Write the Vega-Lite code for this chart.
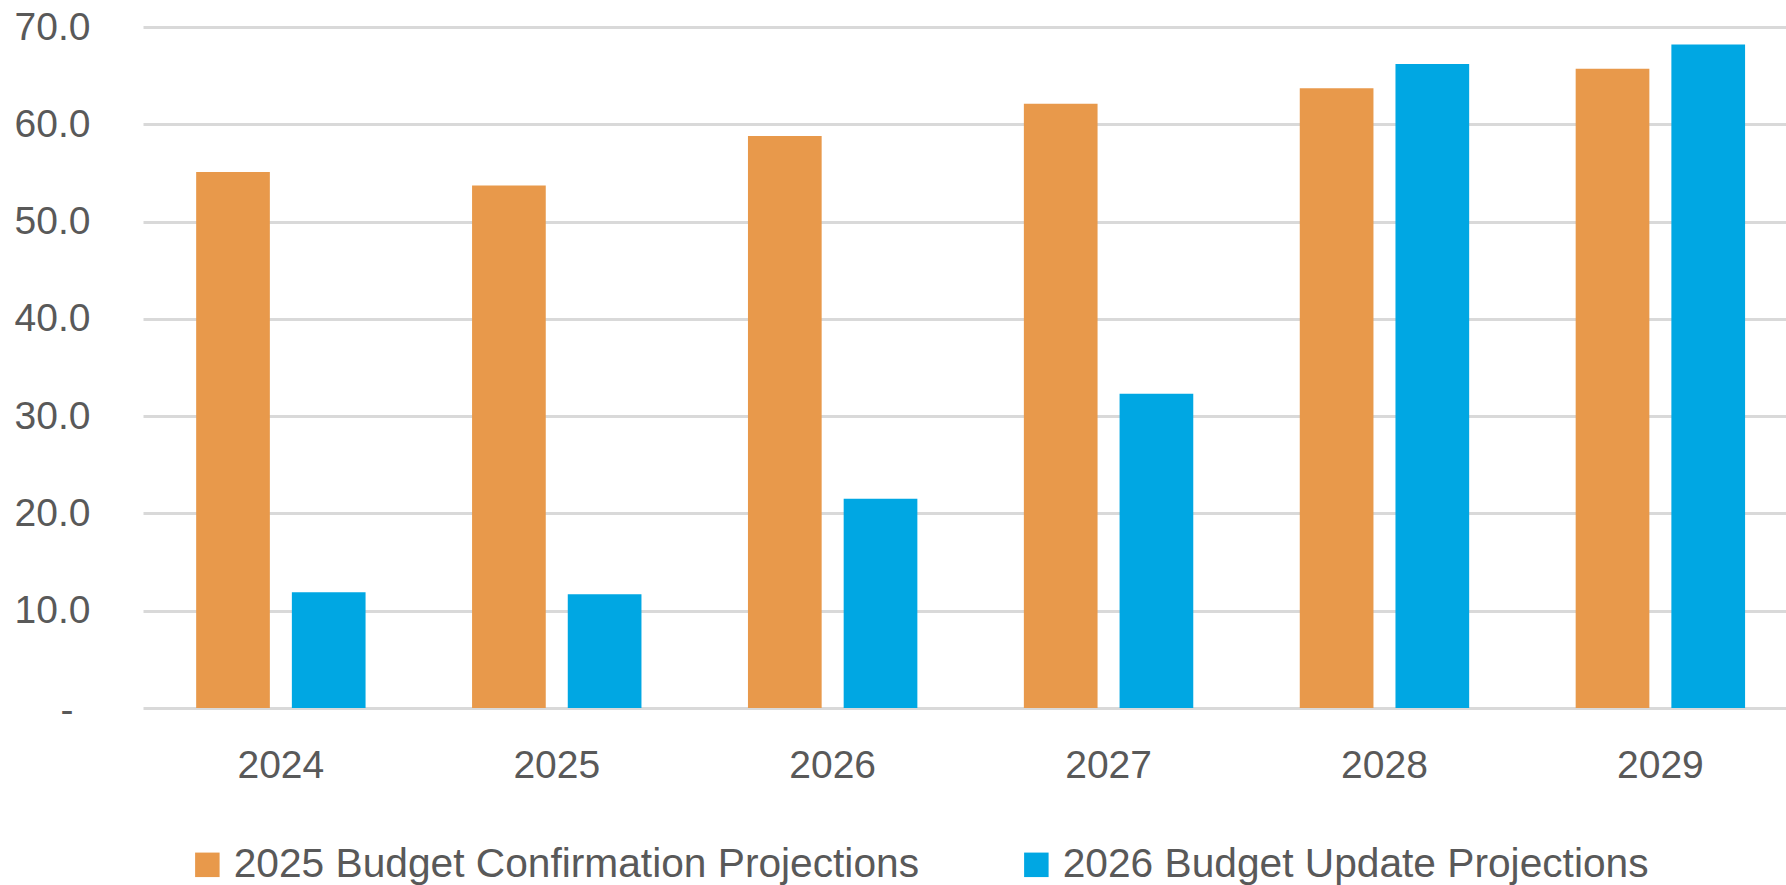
{
  "$schema": "https://vega.github.io/schema/vega-lite/v6.json",
  "autosize": "none",
  "padding": {"left": 143, "top": 27, "right": 0, "bottom": 177},
  "width": 1643,
  "height": 681,
  "background": "white",
  "config": {
    "view": {"stroke": null},
    "font": "Liberation Sans"
  },
  "data": {
    "values": [
      {"year": "2024", "series": "2025 Budget Confirmation Projections", "value": 55.1},
      {"year": "2024", "series": "2026 Budget Update Projections", "value": 11.9},
      {"year": "2025", "series": "2025 Budget Confirmation Projections", "value": 53.7},
      {"year": "2025", "series": "2026 Budget Update Projections", "value": 11.7},
      {"year": "2026", "series": "2025 Budget Confirmation Projections", "value": 58.8},
      {"year": "2026", "series": "2026 Budget Update Projections", "value": 21.5},
      {"year": "2027", "series": "2025 Budget Confirmation Projections", "value": 62.1},
      {"year": "2027", "series": "2026 Budget Update Projections", "value": 32.3},
      {"year": "2028", "series": "2025 Budget Confirmation Projections", "value": 63.7},
      {"year": "2028", "series": "2026 Budget Update Projections", "value": 66.2},
      {"year": "2029", "series": "2025 Budget Confirmation Projections", "value": 65.7},
      {"year": "2029", "series": "2026 Budget Update Projections", "value": 68.2}
    ]
  },
  "mark": {"type": "bar"},
  "encoding": {
    "x": {
      "field": "year",
      "type": "nominal",
      "scale": {"paddingInner": 0.386, "paddingOuter": 0.1705, "align": 0.565},
      "axis": {
        "title": null,
        "labelAngle": 0,
        "labelFontSize": 39,
        "labelColor": "#595959",
        "labelPadding": 38,
        "ticks": false,
        "domain": false,
        "grid": false
      }
    },
    "xOffset": {
      "field": "series",
      "type": "nominal",
      "scale": {"paddingInner": 0.23, "paddingOuter": 0}
    },
    "y": {
      "field": "value",
      "type": "quantitative",
      "scale": {"domain": [0, 70], "nice": false},
      "axis": {
        "title": null,
        "values": [0, 10, 20, 30, 40, 50, 60, 70],
        "labelExpr": "datum.value === 0 ? '-' : format(datum.value, '.1f')",
        "labelFontSize": 39,
        "labelColor": "#595959",
        "labelPadding": {"condition": {"test": "datum.value === 0", "value": 70}, "value": 53},
        "labelOffset": {"condition": {"test": "datum.value === 0", "value": 2}, "value": 0},
        "ticks": false,
        "domain": false,
        "grid": true,
        "gridColor": "#d9d9d9",
        "gridWidth": 3
      }
    },
    "color": {
      "field": "series",
      "type": "nominal",
      "scale": {
        "domain": ["2025 Budget Confirmation Projections", "2026 Budget Update Projections"],
        "range": ["#E8994B", "#00A7E3"]
      },
      "legend": {
        "title": null,
        "orient": "none",
        "direction": "horizontal",
        "legendX": 44,
        "legendY": 817,
        "symbolType": "square",
        "symbolSize": 600,
        "symbolStrokeWidth": 0,
        "labelFontSize": 40.7,
        "labelColor": "#595959",
        "labelOffset": 6,
        "labelLimit": 1000,
        "columnPadding": 96
      }
    }
  }
}
